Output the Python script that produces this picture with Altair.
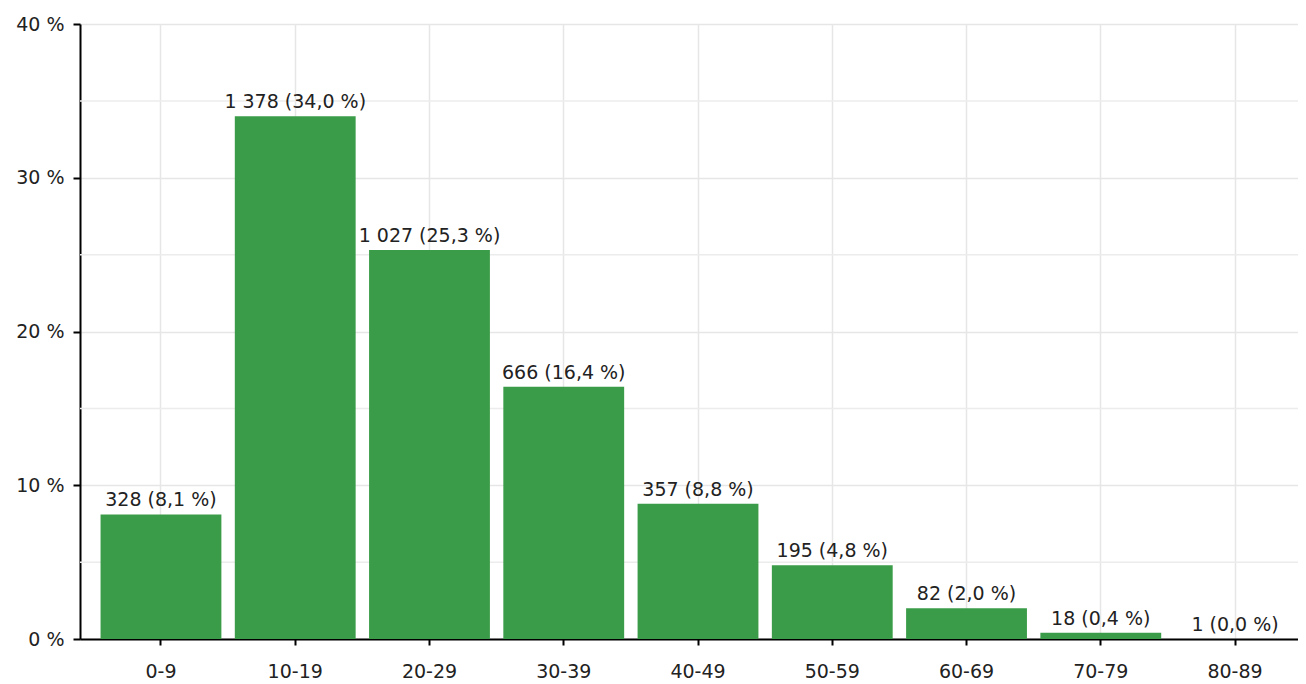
import altair as alt
import pandas as pd

categories = ["0-9", "10-19", "20-29", "30-39", "40-49", "50-59", "60-69", "70-79", "80-89"]
counts = [328, 1378, 1027, 666, 357, 195, 82, 18, 1]
percents = [8.1, 34.0, 25.3, 16.4, 8.8, 4.8, 2.0, 0.4, 0.0]
y_ticks = [0, 10, 20, 30, 40]
minor_grid = [5, 15, 25, 35]

def make_label(c, p):
    cs = f"{c:,}".replace(",", " ")
    ps = f"{p:.1f}".replace(".", ",")
    return f"{cs} ({ps} %)"

df = pd.DataFrame({
    "cat": categories,
    "pct": percents,
    "label": [make_label(c, p) for c, p in zip(counts, percents)],
})
grid_df = pd.DataFrame({"pct": minor_grid})

FONT = "DejaVu Sans"
TXT = "#222222"

xenc = alt.X("cat:N", sort=categories, title=None,
             scale=alt.Scale(paddingInner=0.1, paddingOuter=0.086, align=0.89),
             axis=alt.Axis(labelAngle=0, labelFont=FONT, labelFontSize=19, labelColor=TXT,
                           domainColor="black", domainWidth=2, tickColor="black", tickWidth=2,
                           tickSize=6, labelPadding=17, grid=True, gridColor="#e6e6e6",
                           gridWidth=1.5))
yaxis = alt.Axis(values=y_ticks, labelExpr="datum.value + ' %'", labelFont=FONT, labelFontSize=19,
                 labelColor=TXT, domainColor="black", domainWidth=2, tickColor="black",
                 tickWidth=2, tickSize=7, labelPadding=9, grid=True, gridColor="#e6e6e6",
                 gridWidth=1.5)
yscale = alt.Scale(domain=[0, 40], nice=False)

grid = alt.Chart(grid_df).mark_rule(color="#ececec", strokeWidth=1.5).encode(
    y=alt.Y("pct:Q", scale=yscale, axis=yaxis, title=None)
)

bars = alt.Chart(df).mark_bar(color="#3a9c48").encode(
    x=xenc,
    y=alt.Y("pct:Q", scale=yscale, axis=yaxis, title=None),
)

text = alt.Chart(df).mark_text(dy=-8, baseline="alphabetic", font=FONT, fontSize=19,
                               color=TXT).encode(
    x=xenc,
    y=alt.Y("pct:Q", scale=yscale, axis=yaxis, title=None),
    text="label:N",
)

chart = alt.layer(grid, bars, text).properties(
    width=1218, height=615,
    autosize=alt.AutoSizeParams(type="none"),
    padding={"left": 72, "top": 16, "right": 0, "bottom": 44},
    background="white",
).configure_view(stroke=None)

chart.save("out.html", embed_options={"renderer": "svg", "actions": False})
